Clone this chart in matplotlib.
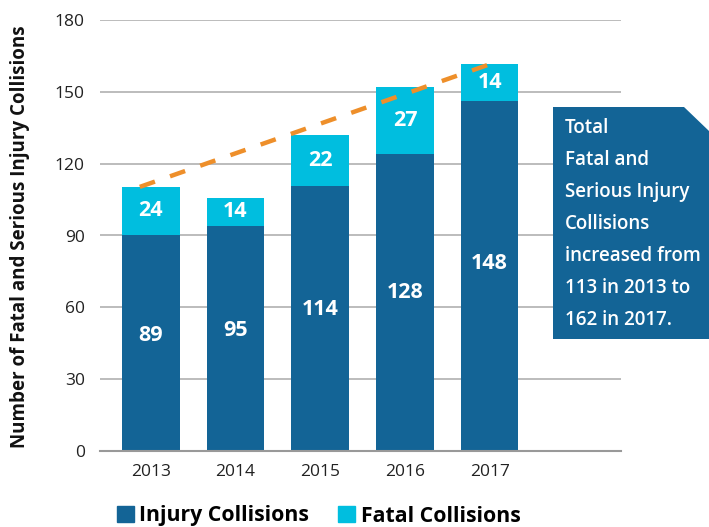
import matplotlib
matplotlib.use("Agg")
import matplotlib.pyplot as plt
from matplotlib.patches import Polygon, Patch

# Data
years = ["2013", "2014", "2015", "2016", "2017"]
# printed labels
injury_labels = [89, 95, 114, 128, 148]
fatal_labels = [24, 14, 22, 27, 14]
# bar heights as drawn in the source chart (they do not match the labels exactly)
injury_drawn = [90.2, 94.0, 110.7, 124.0, 146.2]
fatal_drawn = [20.2, 11.7, 21.3, 28.0, 15.4]
# dashed trend line, 2013 -> 2017
trend_x = [-0.13, 4.08]
trend_y = [110.3, 162.5]
yticks = [0, 30, 60, 90, 120, 150, 180]

dark_blue = "#136496"
light_blue = "#00bedf"
orange = "#ee8f2a"
grid_gray = "#b0b0b0"

plt.rcParams["font.family"] = ["Open Sans", "DejaVu Sans"]

W, H = 709, 527
fig = plt.figure(figsize=(W / 100, H / 100), dpi=100)
ax = fig.add_axes([100 / W, (H - 451) / H, 521 / W, 431 / H])

x = list(range(len(years)))
ax.bar(x, injury_drawn, width=0.68, color=dark_blue, zorder=2)
ax.bar(x, fatal_drawn, width=0.68, bottom=injury_drawn, color=light_blue, zorder=2)

for i in x:
    ax.text(i, injury_drawn[i] * 0.535, str(injury_labels[i]), ha="center",
            va="center", color="white", fontsize=15.5, fontweight="bold",
            zorder=3)
    ax.text(i, injury_drawn[i] + fatal_drawn[i] / 2, str(fatal_labels[i]),
            ha="center", va="center", color="white", fontsize=15.5,
            fontweight="bold", zorder=3)

ax.plot(trend_x, trend_y, color=orange, lw=3.2, dashes=(3.6, 3.6), zorder=4,
        solid_capstyle="butt")

ax.set_xlim(-0.6, 5.55)
ax.set_ylim(0, 180)
ax.set_yticks(yticks)
ax.set_xticks(x)
ax.set_xticklabels(years)
ax.tick_params(axis="both", length=0, labelsize=12.5, colors="#222222")
ax.tick_params(axis="y", pad=11)
ax.tick_params(axis="x", pad=9)
ax.grid(axis="y", color=grid_gray, lw=1.2, zorder=0)
for s in ["top", "right", "left"]:
    ax.spines[s].set_visible(False)
ax.spines["bottom"].set_color("#999999")
ax.spines["bottom"].set_linewidth(1.5)

fig.text(20 / W, 1 - 237 / H, "Number of Fatal and Serious Injury Collisions",
         rotation=90, ha="center", va="center", fontsize=13.5,
         fontweight="bold", color="#111111")

# Callout box with clipped top-right corner
box = [(553, 107), (684, 107), (709, 131), (709, 339), (553, 339)]
fig.patches.append(Polygon([(px / W, 1 - py / H) for px, py in box],
                           closed=True, transform=fig.transFigure,
                           facecolor=dark_blue, edgecolor="none", zorder=5))
box_lines = ["Total", "Fatal and", "Serious Injury", "Collisions",
             "increased from", "113 in 2013 to", "162 in 2017."]
for k, line in enumerate(box_lines):
    fig.text(565 / W, 1 - (128 + 32 * k) / H, line, ha="left", va="center",
             fontsize=13.5, fontweight="semibold", color="white", zorder=6)

handles = [Patch(color=dark_blue), Patch(color=light_blue)]
fig.legend(handles, ["Injury Collisions", "Fatal Collisions"], ncol=2,
           loc="center left", bbox_to_anchor=(108 / W, 1 - 516 / H),
           frameon=False, handlelength=0.8, handleheight=0.8,
           handletextpad=0.25, columnspacing=1.4, borderaxespad=0,
           prop={"size": 15.3, "weight": "bold"})

fig.savefig("out.png", dpi=100)
